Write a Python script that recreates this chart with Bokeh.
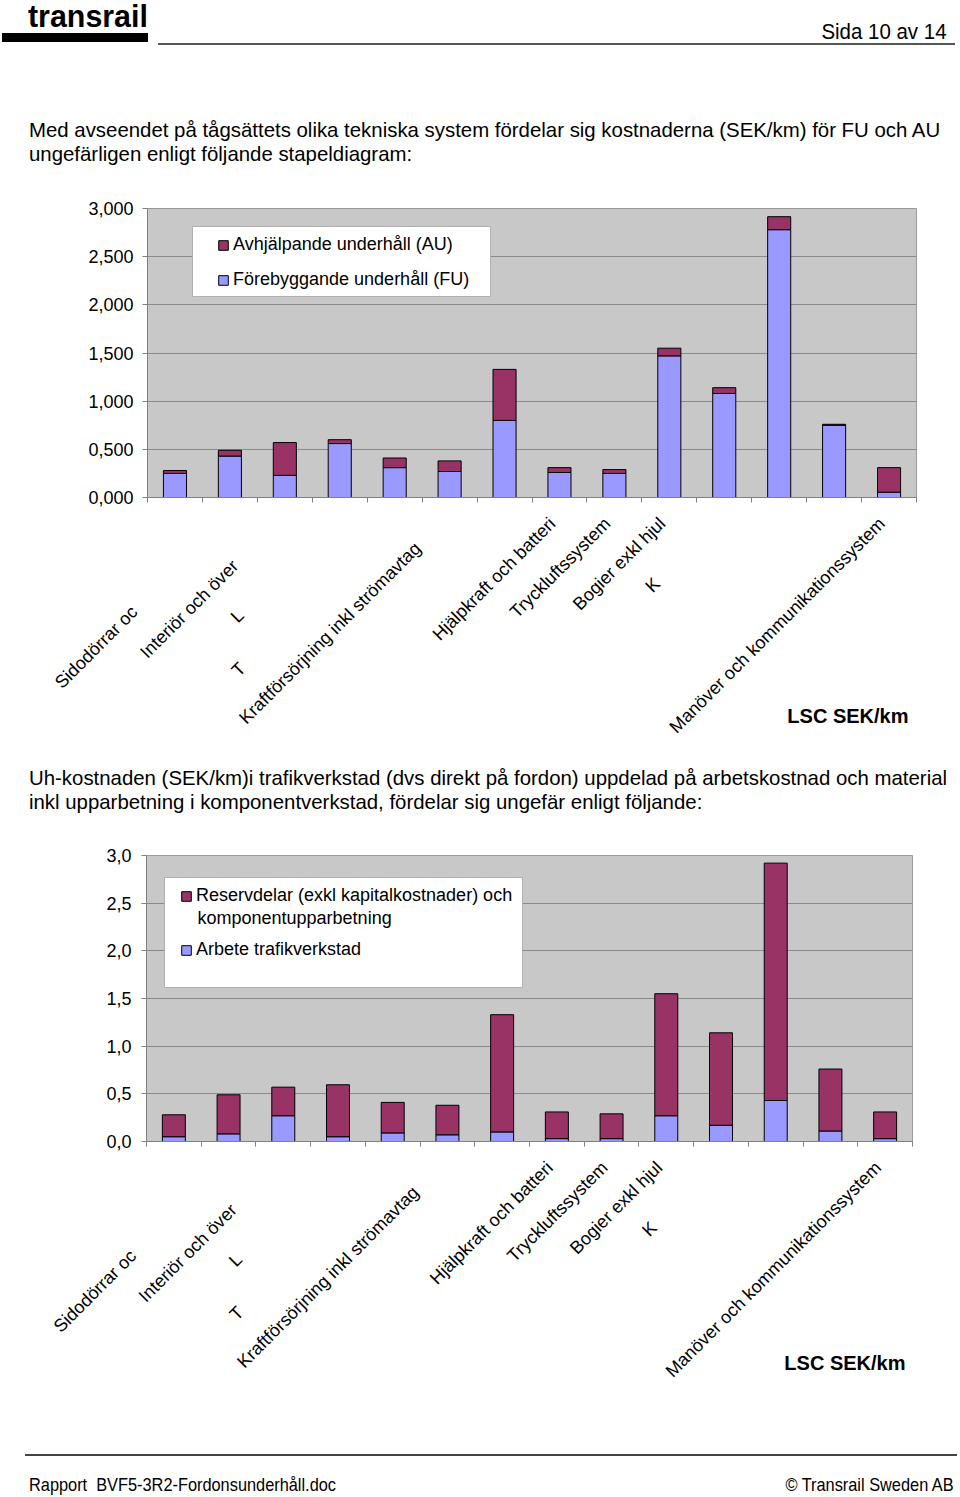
import math
from bokeh.plotting import figure
from bokeh.models import (Range1d, FixedTicker, Label, ColumnDataSource, Legend, LegendItem,
                          BoxAnnotation, Div)
from bokeh.layouts import column
from bokeh.embed import file_html
from bokeh.resources import INLINE

# ---------------- data ----------------
categories = ["", "Sidodörrar oc", "Interiör och över", "L", "T",
              "Kraftförsörjning inkl strömavtag", "", "Hjälpkraft och batteri",
              "Tryckluftssystem", "Bogier exkl hjul", "K", "", "",
              "Manöver och kommunikationssystem"]
fu_values = [0.25, 0.43, 0.23, 0.56, 0.31, 0.27, 0.80, 0.26, 0.25, 1.47, 1.08, 2.78, 0.75, 0.055]
au_values = [0.03, 0.06, 0.34, 0.04, 0.10, 0.11, 0.53, 0.05, 0.04, 0.08, 0.06, 0.135, 0.01, 0.255]
arbete_values = [0.05, 0.08, 0.27, 0.05, 0.09, 0.07, 0.10, 0.03, 0.03, 0.27, 0.17, 0.43, 0.11, 0.03]
reserv_values = [0.23, 0.41, 0.30, 0.545, 0.32, 0.31, 1.23, 0.28, 0.26, 1.28, 0.97, 2.49, 0.65, 0.28]
y_ticks = [0, 0.5, 1, 1.5, 2, 2.5, 3]
y_tick_labels_1 = ["0,000", "0,500", "1,000", "1,500", "2,000", "2,500", "3,000"]
y_tick_labels_2 = ["0,0", "0,5", "1,0", "1,5", "2,0", "2,5", "3,0"]
legend_1 = ["Avhjälpande underhåll (AU)", "Förebyggande underhåll (FU)"]
legend_2 = ["Reservdelar (exkl kapitalkostnader) och", "komponentupparbetning", "Arbete trafikverkstad"]
unit_label = "LSC SEK/km"

# ---------------- style ----------------
# trailing no-break spaces that push each (clipped) rotated label away from its tick
label_pad = [0, 27, 14, 28, 43, 9, 0, 2, 2, 2, 19, 0, 0, 2]
BLUE = "#9999ff"
MAROON = "#993366"
BG = "#c8c8c8"
GRID = "#8a8a8a"
FONT = "Liberation Sans"
n = len(categories)
xs = list(range(1, n + 1))


def box(p, left, top, right, bottom, color, line_color):
    p.add_layout(BoxAnnotation(left=left, right=right, top=top, bottom=bottom,
                               left_units="screen", right_units="screen",
                               top_units="screen", bottom_units="screen",
                               fill_color=color, fill_alpha=1.0,
                               line_color=line_color, line_alpha=1.0, line_width=1))


def make_chart(height, fl, fr, ft, fb, low, high, tick_labels, y_standoff):
    p = figure(width=960, height=height, x_range=Range1d(0.5, n + 0.5), y_range=Range1d(0, 3),
               output_backend="svg", toolbar_location=None,
               min_border_left=fl, min_border_right=960 - fr,
               min_border_top=ft, min_border_bottom=height - fb)
    try:
        p.frame_align = False
    except Exception:
        pass
    p.background_fill_color = BG
    p.border_fill_color = "white"
    p.outline_line_color = "#9a9a9a"
    p.outline_line_width = 1
    p.xgrid.visible = False
    p.ygrid.ticker = FixedTicker(ticks=y_ticks)
    p.ygrid.grid_line_color = GRID
    p.ygrid.grid_line_width = 1
    p.yaxis.ticker = FixedTicker(ticks=y_ticks)
    p.yaxis.major_label_overrides = dict(zip(y_ticks, tick_labels))
    p.yaxis.major_label_text_font = FONT
    p.yaxis.major_label_text_font_size = "18px"
    p.yaxis.major_label_text_color = "black"
    p.yaxis.major_label_standoff = y_standoff
    p.yaxis.major_tick_out = 5
    p.yaxis.major_tick_in = 0
    p.yaxis.minor_tick_line_color = None
    p.yaxis.axis_line_color = "#808080"
    p.yaxis.major_tick_line_color = "#808080"
    # category axis: labels at bar centres, tick marks between categories
    p.xaxis.ticker = FixedTicker(ticks=xs, minor_ticks=[i + 0.5 for i in range(n + 1)])
    p.xaxis.major_label_overrides = {x: categories[i] + "\u00a0" * label_pad[i]
                                     for i, x in enumerate(xs)}
    p.xaxis.major_label_orientation = math.pi / 4
    p.xaxis.major_label_text_font = FONT
    p.xaxis.major_label_text_font_size = "18px"
    p.xaxis.major_label_text_color = "black"
    p.xaxis.major_label_standoff = 11
    p.xaxis.major_tick_line_color = None
    p.xaxis.major_tick_out = 0
    p.xaxis.major_tick_in = 0
    p.xaxis.minor_tick_out = 5
    p.xaxis.minor_tick_in = 0
    p.xaxis.minor_tick_line_color = "#808080"
    p.xaxis.axis_line_color = "#808080"
    src = ColumnDataSource(dict(x=xs, low=low, high=high))
    r_low, r_high = p.vbar_stack(["low", "high"], x="x", width=0.42, color=[BLUE, MAROON],
                                 line_color="black", line_width=1, source=src)
    return p, r_low, r_high


def style_legend(lg):
    lg.padding = 0
    lg.margin = 0
    lg.glyph_width = 12
    lg.glyph_height = 12
    lg.label_standoff = 4
    lg.label_height = 20
    lg.label_text_font = FONT
    lg.label_text_font_size = "18px"
    lg.label_text_color = "black"
    lg.border_line_alpha = 0
    lg.background_fill_alpha = 0


def html_text(x, baseline, size, text, weight="normal", align="left", sx=1.0, lh=1.0):
    top = baseline - ((lh - 1.117) / 2 + 0.905) * size
    if align == "right":
        pos = f"right:{960 - x}px"
        origin = "right"
    else:
        pos = f"left:{x}px"
        origin = "left"
    return (f'<div style="position:absolute;{pos};top:{top:.1f}px;'
            f'font-family:\'{FONT}\',sans-serif;font-size:{size}px;'
            f'font-weight:{weight};line-height:{lh};white-space:nowrap;color:black;'
            f'transform:scaleX({sx});transform-origin:{origin};">{text}</div>')


def html_rect(x0, y0, x1, y1, color):
    return (f'<div style="position:absolute;left:{x0}px;top:{y0}px;width:{x1 - x0}px;'
            f'height:{y1 - y0}px;background:{color};"></div>')


def page_div(height, parts):
    inner = "".join(parts)
    return Div(text=f'<div style="position:relative;width:960px;height:{height}px;'
                    f'overflow:hidden;background:white;">{inner}</div>',
               width=960, height=height, margin=0)


# ---------------- header + intro (page y 0..172) ----------------
OA = 172
div1 = page_div(OA, [
    html_text(28, 28, 31, "transrail", weight="bold", sx=0.98, lh=0.8),
    html_rect(2, 33, 148, 42, "black"),
    html_rect(158, 43, 955, 45, "#555555"),
    html_text(947, 40, 22, "Sida 10 av 14", align="right", sx=0.93),
    html_text(29, 137, 20.4, "Med avseendet på tågsättets olika tekniska system fördelar sig kostnaderna (SEK/km) för FU och AU"),
    html_text(29, 161, 20.4, "ungefärligen enligt följande stapeldiagram:"),
])

# ---------------- chart 1 (page y 172..760) ----------------
A_L, A_R, A_T, A_B = 147, 916, 208, 497
pA, fu_r, au_r = make_chart(760 - OA, A_L, A_R, A_T - OA, A_B - OA, fu_values, au_values,
                            y_tick_labels_1, 9)
box(pA, 192 - A_L, A_B - 226, 490 - A_L, A_B - 296, "white", "#b0b0b0")
lgA = Legend(items=[LegendItem(label=legend_1[0], renderers=[au_r]),
                    LegendItem(label=legend_1[1], renderers=[fu_r])],
             location=(217 - A_L, A_B - 290), spacing=14)
style_legend(lgA)
pA.add_layout(lgA)
pA.add_layout(Label(x=908 - A_L, y=A_T - 715, x_units="screen", y_units="screen",
                    text=unit_label, text_font=FONT, text_font_size="20px",
                    text_font_style="bold", text_align="right", text_baseline="alphabetic",
                    text_color="black"), "above")

# ---------------- second intro (page y 760..830) ----------------
div2 = page_div(70, [
    html_text(29, 785 - 760, 20.4, "Uh-kostnaden (SEK/km)i trafikverkstad (dvs direkt på fordon) uppdelad på arbetskostnad och material"),
    html_text(29, 809 - 760, 20.4, "inkl upparbetning i komponentverkstad, fördelar sig ungefär enligt följande:"),
])

# ---------------- chart 2 (page y 830..1420) ----------------
OB = 830
B_L, B_R, B_T, B_B = 146, 912, 855, 1141
pB, arb_r, res_r = make_chart(590, B_L, B_R, B_T - OB, B_B - OB, arbete_values, reserv_values,
                              y_tick_labels_2, 10)
box(pB, 164 - B_L, B_B - 877, 522 - B_L, B_B - 987, "white", "#b0b0b0")
lgB = Legend(items=[LegendItem(label=legend_2[0], renderers=[res_r]),
                    LegendItem(label=legend_2[2], renderers=[arb_r])],
             location=(180 - B_L, B_B - 960), spacing=33)
style_legend(lgB)
pB.add_layout(lgB)
pB.add_layout(Label(x=197 - B_L, y=B_B - 917, x_units="screen", y_units="screen",
                    text=legend_2[1], text_font=FONT, text_font_size="18px",
                    text_align="left", text_baseline="alphabetic", text_color="black"))
pB.add_layout(Label(x=905 - B_L, y=B_T - 1362, x_units="screen", y_units="screen",
                    text=unit_label, text_font=FONT, text_font_size="20px",
                    text_font_style="bold", text_align="right", text_baseline="alphabetic",
                    text_color="black"), "above")

# ---------------- footer (page y 1420..1497) ----------------
div3 = page_div(77, [
    html_rect(25, 1454 - 1420, 957, 1456 - 1420, "#444444"),
    html_text(29, 1491 - 1420, 19, "Rapport&nbsp;&nbsp;BVF5-3R2-Fordonsunderhåll.doc", sx=0.86),
    html_text(954, 1491 - 1420, 19, "© Transrail Sweden AB", align="right", sx=0.86),
])

layout = column(div1, pA, div2, pB, div3, spacing=0)
open("out.html", "w").write(file_html(layout, INLINE))
